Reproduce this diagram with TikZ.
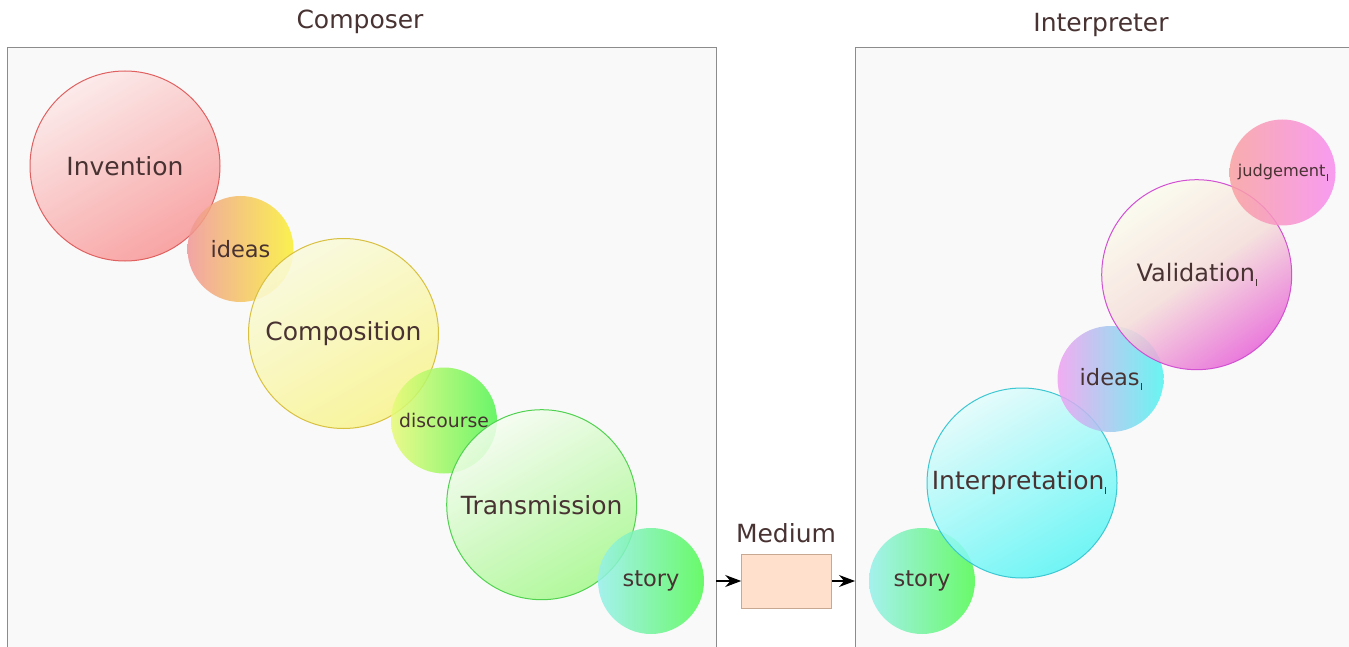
\documentclass[tikz,border=0pt]{standalone}
\usepackage{fontspec}
\setmainfont{DejaVu Sans}
\usetikzlibrary{arrows.meta}
\definecolor{txt}{RGB}{72,50,50}
\definecolor{panelfill}{RGB}{249,249,249}
\definecolor{paneldraw}{RGB}{140,140,140}
\newcommand\mytick{\kern1pt\raisebox{-4pt}{\rule{0.7pt}{7pt}}}
\tikzset{
  panel/.style={draw=paneldraw, fill=panelfill, line width=1.3pt, anchor=north west, inner sep=0pt},
  title/.style={text=txt, font=\fontsize{25}{30}\selectfont, inner sep=0pt},
  bubble/.style={circle, inner sep=0pt, text=txt, fill opacity=0.85, text opacity=1},
  bigbubble/.style={bubble, minimum size=190pt, font=\fontsize{25}{30}\selectfont, line width=1pt},
  smallbubble/.style={bubble, minimum size=106pt, font=\fontsize{22.5}{27}\selectfont},
  conn/.style={-{Stealth[length=16pt,width=12pt]}, line width=1.2pt, black}
}
\begin{document}
\begin{tikzpicture}[x=1pt,y=-1pt]
\useasboundingbox (0,0) rectangle (1349,647);
\clip (0,0) rectangle (1349,647);
% panels
\node[panel, minimum width=709pt, minimum height=640pt] (composer) at (7,47) {};
\node[panel, minimum width=520pt, minimum height=640pt] (interpreter) at (855,47) {};
\node[title] (composertitle) at (360,22) {Composer};
\node[title] (interpretertitle) at (1101,25) {Interpreter};
% composer bubbles
\node[bigbubble, top color={rgb,255:red,253;green,232;blue,232}, bottom color={rgb,255:red,248;green,150;blue,150}, shading angle=30, draw={rgb,255:red,224;green,96;blue,96}] (invention) at (125,166) {Invention};
\node[smallbubble, left color={rgb,255:red,240;green,150;blue,150}, right color={rgb,255:red,250;green,240;blue,50}] (ideasL) at (240.5,249) {ideas};
\node[bigbubble, top color={rgb,255:red,250;green,250;blue,220}, bottom color={rgb,255:red,248;green,244;blue,140}, shading angle=30, draw={rgb,255:red,216;green,192;blue,64}] (composition) at (343.5,333.5) {Composition};
\node[smallbubble, font=\fontsize{18.8}{22}\selectfont, left color={rgb,255:red,232;green,250;blue,120}, right color={rgb,255:red,80;green,245;blue,80}] (discourse) at (444,420.5) {discourse};
\node[bigbubble, top color={rgb,255:red,245;green,253;blue,240}, bottom color={rgb,255:red,165;green,248;blue,140}, shading angle=30, draw={rgb,255:red,80;green,210;blue,80}] (transmission) at (541.7,504.7) {Transmission};
\node[smallbubble, left color={rgb,255:red,150;green,240;blue,235}, right color={rgb,255:red,80;green,250;blue,80}] (storyL) at (651,581) {story};
% medium
\node[draw={rgb,255:red,200;green,168;blue,144}, fill={rgb,255:red,255;green,224;blue,204}, line width=1pt, minimum width=90pt, minimum height=54pt, inner sep=0pt] (medium) at (786.7,581) {};
\node[title] (mediumtitle) at (786,533) {Medium};
\coordinate (outL) at (716,581);
\coordinate (inR) at (855,581);
\draw[conn] (outL) -- (medium.west);
\draw[conn] (medium.east) -- (inR);
% interpreter bubbles
\node[smallbubble, left color={rgb,255:red,150;green,240;blue,235}, right color={rgb,255:red,80;green,250;blue,80}] (storyR) at (922,581) {story};
\node[bigbubble, top color={rgb,255:red,225;green,252;blue,252}, bottom color={rgb,255:red,90;green,245;blue,245}, shading angle=30, draw={rgb,255:red,60;green,200;blue,210}] (interpretation) at (1022,483) {\hspace*{-6pt}Interpretation\mytick};
\node[smallbubble, left color={rgb,255:red,240;green,160;blue,240}, right color={rgb,255:red,80;green,245;blue,240}] (ideasR) at (1110.5,379) {ideas\mytick};
\node[bigbubble, font=\fontsize{24}{29}\selectfont, top color={rgb,255:red,252;green,252;blue,238}, bottom color={rgb,255:red,232;green,100;blue,215}, middle color={rgb,255:red,245;green,222;blue,218}, shading angle=35, draw={rgb,255:red,210;green,80;blue,210}] (validation) at (1196.7,274.7) {Validation\mytick};
\node[smallbubble, font=\fontsize{16.2}{19}\selectfont, left color={rgb,255:red,248;green,160;blue,160}, right color={rgb,255:red,248;green,140;blue,240}] (judgement) at (1282.5,172.5) {judgement\mytick};
\end{tikzpicture}
\end{document}
